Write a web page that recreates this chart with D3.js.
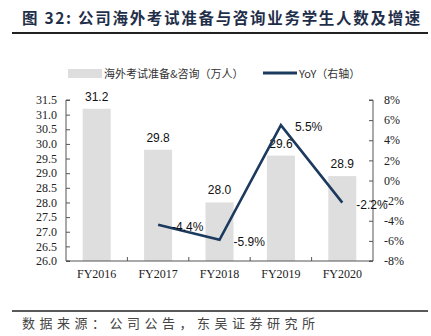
<!DOCTYPE html>
<html><head><meta charset="utf-8">
<script src="https://cdn.jsdelivr.net/npm/d3@7"></script>
<style>body{margin:0;background:#fff;}svg{display:block;}</style>
</head><body>
<svg id="c" width="431" height="336"></svg>
<script>
const categories = ["FY2016","FY2017","FY2018","FY2019","FY2020"];
const students = [31.2, 29.8, 28.0, 29.6, 28.9];
const yoy = [null, -4.4, -5.9, 5.5, -2.2];
const leftTicks = [26.0,26.5,27.0,27.5,28.0,28.5,29.0,29.5,30.0,30.5,31.0,31.5];
const rightTicks = [-8,-6,-4,-2,0,2,4,6,8];
const titleText = "图 32: 公司海外考试准备与咨询业务学生人数及增速";
const legendBar = "海外考试准备&咨询（万人）";
const legendLine = "YoY（右轴）";
const sourceText = "数据来源：公司公告，东吴证券研究所";

const svg = d3.select("#c");
const L = 66, R = 373, T = 100, B = 261;
const navy = "#1c3a5e";
const serif = "'Liberation Serif','Times New Roman',serif";
const sans = "'Liberation Sans',Arial,sans-serif";
const cjk = "'Noto Sans CJK SC',sans-serif";

// title
svg.append("text").attr("x", 22).attr("y", 24).attr("font-family", cjk).attr("font-weight", "bold")
  .attr("font-size", 15.5).attr("fill", "#1f2f4a").attr("letter-spacing", 1.7).text(titleText);
svg.append("line").attr("x1", 12).attr("x2", 428).attr("y1", 33).attr("y2", 33).attr("stroke", "#222").attr("stroke-width", 2);

const xb = d3.scaleBand().domain(categories).range([L, R]);
const y = d3.scaleLinear().domain([26, 31.5]).range([B, T]);
const y2 = d3.scaleLinear().domain([-8, 8]).range([B, T]);

// bars
svg.append("g").selectAll("rect").data(students).join("rect")
  .attr("x", (d, i) => xb(categories[i]) + xb.bandwidth()/2 - 14)
  .attr("width", 28)
  .attr("y", d => y(d)).attr("height", d => B - y(d))
  .attr("fill", "#dedede");

// axes
const axL = svg.append("g").attr("transform", `translate(${L},0)`)
  .call(d3.axisRight(y).tickValues(leftTicks).tickFormat(d3.format(".1f")).tickSize(4));
axL.selectAll("text").remove();
axL.append("g").selectAll("text").data(leftTicks).join("text")
  .attr("x", -9).attr("y", d => y(d)).attr("dy", "0.35em").attr("text-anchor", "end")
  .attr("font-family", serif).attr("font-size", 12).attr("fill", "#222").text(d3.format(".1f"));

const axR = svg.append("g").attr("transform", `translate(${R},0)`)
  .call(d3.axisLeft(y2).tickValues(rightTicks).tickSize(4));
axR.selectAll("text").remove();
axR.append("g").selectAll("text").data(rightTicks).join("text")
  .attr("x", 11).attr("y", d => y2(d)).attr("dy", "0.35em").attr("text-anchor", "start")
  .attr("font-family", serif).attr("font-size", 12).attr("fill", "#222").text(d => d + "%");

const axB = svg.append("g").attr("transform", `translate(0,${B})`)
  .call(d3.axisBottom(xb).tickSize(0));
axB.selectAll(".tick text").attr("font-family", serif).attr("font-size", 12).attr("fill", "#222").attr("dy", "1.2em");
axB.append("g").selectAll("line").data(categories.slice(1)).join("line")
  .attr("x1", d => xb(d)).attr("x2", d => xb(d)).attr("y1", 0).attr("y2", -4).attr("stroke", "#444");
[axL, axR, axB].forEach(a => { a.selectAll("path.domain,line").attr("stroke", "#555"); a.select(".domain").attr("stroke-width", 1); });
axL.select(".domain").attr("d", `M4,${T}H0V${B}H4`);
axR.select(".domain").attr("d", `M-4,${T}H0V${B}H-4`);
axB.select(".domain").attr("d", `M${L},0H${R}`);

// bar labels
svg.append("g").selectAll("text").data(students).join("text")
  .attr("x", (d, i) => xb(categories[i]) + xb.bandwidth()/2)
  .attr("y", d => y(d) - 8).attr("text-anchor", "middle")
  .attr("font-family", sans).attr("font-size", 12).attr("fill", "#111").text(d => d.toFixed(1));

// line
const pts = yoy.map((v, i) => ({v, c: categories[i]})).filter(d => d.v !== null);
svg.append("path").datum(pts)
  .attr("d", d3.line().x(d => xb(d.c) + xb.bandwidth()/2).y(d => y2(d.v)))
  .attr("fill", "none").attr("stroke", navy).attr("stroke-width", 2.6);
svg.append("g").selectAll("text").data(pts).join("text")
  .attr("x", d => xb(d.c) + xb.bandwidth()/2 + 14).attr("y", d => y2(d.v) + 2).attr("dy", "0.35em")
  .attr("font-family", sans).attr("font-size", 12).attr("fill", "#111").text(d => d.v.toFixed(1) + "%");

// legend
svg.append("rect").attr("x", 68).attr("y", 69).attr("width", 34).attr("height", 9).attr("fill", "#dedede");
svg.append("text").attr("x", 104).attr("y", 77.5).attr("font-family", cjk).attr("font-size", 11).attr("fill", "#333").text(legendBar);
svg.append("line").attr("x1", 263).attr("x2", 297).attr("y1", 73).attr("y2", 73).attr("stroke", navy).attr("stroke-width", 3);
svg.append("text").attr("x", 299).attr("y", 77.5).attr("font-family", cjk).attr("font-size", 11).attr("fill", "#333").text(legendLine);

// footer
svg.append("line").attr("x1", 12).attr("x2", 428).attr("y1", 311).attr("y2", 311).attr("stroke", "#222").attr("stroke-width", 1.5);
svg.append("text").attr("x", 22).attr("y", 328).attr("font-family", cjk).attr("font-size", 13).attr("fill", "#444")
  .attr("letter-spacing", 4.5).text(sourceText);
</script>
</body></html>
